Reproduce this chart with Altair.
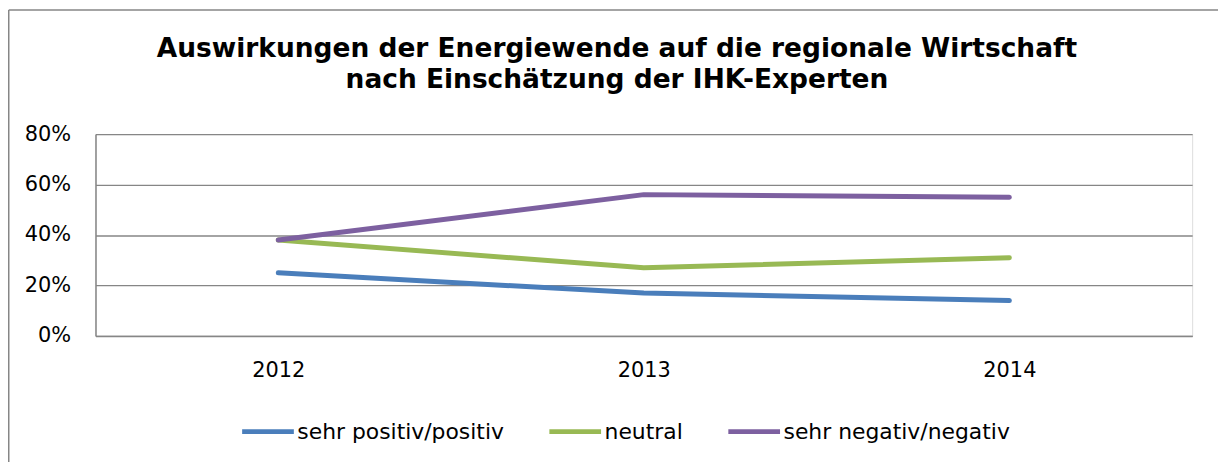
import altair as alt
import pandas as pd

years = ["2012", "2013", "2014"]
series = ["sehr positiv/positiv", "neutral", "sehr negativ/negativ"]
positiv = [0.25, 0.17, 0.14]
neutral = [0.38, 0.27, 0.31]
negativ = [0.38, 0.56, 0.55]
colors = ["#4A7EBB", "#98B954", "#7D60A0"]
y_ticks = [0, 0.2, 0.4, 0.6, 0.8]
title_lines = [
    "Auswirkungen der Energiewende auf die regionale Wirtschaft",
    "nach Einschätzung der IHK-Experten",
]

rows = []
for s, vals in zip(series, [positiv, neutral, negativ]):
    for yr, v in zip(years, vals):
        rows.append({"Jahr": yr, "Anteil": v, "Bewertung": s})
df = pd.DataFrame(rows)

GREY = "#868686"
FONT = "DejaVu Sans"

lines = alt.Chart(df).mark_line(strokeWidth=5, strokeCap="round", strokeJoin="round").encode(
    x=alt.X(
        "Jahr:N",
        sort=years,
        scale=alt.Scale(type="point", padding=0.5),
        axis=alt.Axis(
            title=None, labelAngle=0, ticks=False, grid=False,
            domainColor=GREY, domainWidth=1.5,
            labelFont=FONT, labelFontSize=21, labelColor="#000000", labelPadding=24,
        ),
    ),
    y=alt.Y(
        "Anteil:Q",
        scale=alt.Scale(domain=[0, 0.8], nice=False),
        axis=alt.Axis(
            title=None, values=y_ticks, format=".0%", ticks=False,
            grid=True, gridColor=GREY, gridWidth=1.3,
            domainColor=GREY, domainWidth=1.5,
            labelFont=FONT, labelFontSize=21, labelColor="#000000", labelPadding=25,
        ),
    ),
    color=alt.Color(
        "Bewertung:N",
        sort=series,
        scale=alt.Scale(domain=series, range=colors),
        legend=alt.Legend(
            title=None, orient="none", legendX=145, legendY=270.5,
            direction="horizontal", symbolType="stroke", symbolSize=2704,
            symbolStrokeWidth=5, labelFont=FONT, labelFontSize=22,
            labelColor="#000000", labelOffset=1, columnPadding=35,
            padding=0, labelLimit=400,
        ),
    ),
)

left_border = alt.Chart(alt.Data(values=[{}])).mark_rule(color=GREY, strokeWidth=1.5).encode(
    x=alt.value(-87.25), y=alt.value(-124.75), y2=alt.value(340)
)
top_border = alt.Chart(alt.Data(values=[{}])).mark_rule(color=GREY, strokeWidth=1.5).encode(
    x=alt.value(-87.25), x2=alt.value(1140), y=alt.value(-124.75)
)

chart = alt.layer(left_border, top_border, lines).properties(
    width=1103,
    height=203,
    autosize=alt.AutoSizeParams(type="none"),
    padding={"left": 88, "top": 125.5, "right": 26, "bottom": 125},
    title=alt.TitleParams(
        text=title_lines, font=FONT, fontSize=26.6, fontWeight="bold", color="#000000",
        anchor="middle", frame="group", lineHeight=31, dx=-27, dy=89,
    ),
).configure_view(strokeWidth=0).configure(background="white")

chart.save("out.html", embed_options={"renderer": "svg", "actions": False})
